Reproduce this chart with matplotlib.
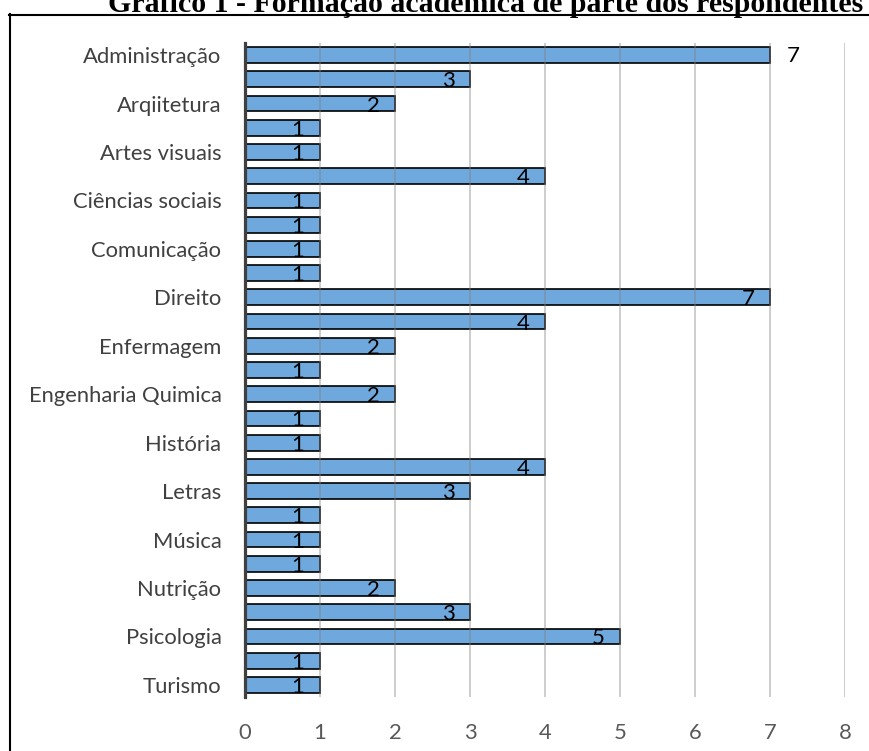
import matplotlib
matplotlib.use('Agg')
import matplotlib.pyplot as plt
from matplotlib.lines import Line2D

# Categories top to bottom; Excel hid every other label for lack of room
categories = ['Administração', '', 'Arqiitetura', '', 'Artes visuais', '',
              'Ciências sociais', '', 'Comunicação', '', 'Direito', '',
              'Enfermagem', '', 'Engenharia Quimica', '', 'História', '',
              'Letras', '', 'Música', '', 'Nutrição', '', 'Psicologia', '',
              'Turismo']
counts = [7, 3, 2, 1, 1, 4, 1, 1, 1, 1, 7, 4, 2, 1, 2, 1, 1, 4, 3, 1, 1, 1,
          2, 3, 5, 1, 1]
x_ticks = [0, 1, 2, 3, 4, 5, 6, 7, 8]
title = 'Gráfico 1 - Formação acadêmica de parte dos respondentes'

W, H, DPI = 869, 751, 100
FONT = 'Lato'

fig = plt.figure(figsize=(W / DPI, H / DPI), dpi=DPI)
ax = fig.add_axes([245 / W, 1 - 697 / H, 600 / W, 654 / H])

pos = list(range(len(categories)))
ax.barh(pos, counts, height=0.65, color='#6FA8DC', edgecolor='black',
        linewidth=1.2, zorder=2)

for x in x_ticks[1:]:
    ax.axvline(x, color='#808080', alpha=0.5, linewidth=1.1, zorder=3)

for i, v in enumerate(counts):
    if i == 0:
        # first label sits outside the bar end in the original
        ax.annotate(str(v), (v, i), xytext=(23, -1), textcoords='offset pixels',
                    ha='center', va='center', fontsize=16, family=FONT,
                    color='black', zorder=4)
    else:
        ax.annotate(str(v), (v, i), xytext=(-22, -2), textcoords='offset pixels',
                    ha='center', va='center', fontsize=16, family=FONT,
                    color='black', zorder=4)

ax.set_xlim(0, 8)
ax.set_ylim(len(categories) - 0.5, -0.5)
ax.set_xticks(x_ticks)
ax.set_yticks(pos)
ax.set_yticklabels(categories)
ax.tick_params(axis='y', length=0, pad=17, labelsize=15.8, labelcolor='#404040')
ax.tick_params(axis='x', length=0, pad=19, labelsize=15.8, labelcolor='#595959')
for lab in ax.get_xticklabels() + ax.get_yticklabels():
    lab.set_family(FONT)

for side in ('top', 'right', 'bottom'):
    ax.spines[side].set_visible(False)
ax.spines['left'].set_color('#404040')
ax.spines['left'].set_linewidth(2.3)
ax.spines['left'].set_zorder(5)

# outer frame of the pasted chart (top and left edges visible)
fig.add_artist(Line2D([9 / W, 1], [1 - 14.5 / H, 1 - 14.5 / H],
                      transform=fig.transFigure, color='black', linewidth=1.5))
fig.add_artist(Line2D([10 / W, 10 / W], [0, 1 - 14 / H],
                      transform=fig.transFigure, color='black', linewidth=1.5))

fig.text(108 / W, 1 - 12 / H, title, ha='left', va='baseline',
         family='Liberation Serif', weight='bold', fontsize=21.5, color='black')

fig.savefig('out.png', dpi=DPI)
